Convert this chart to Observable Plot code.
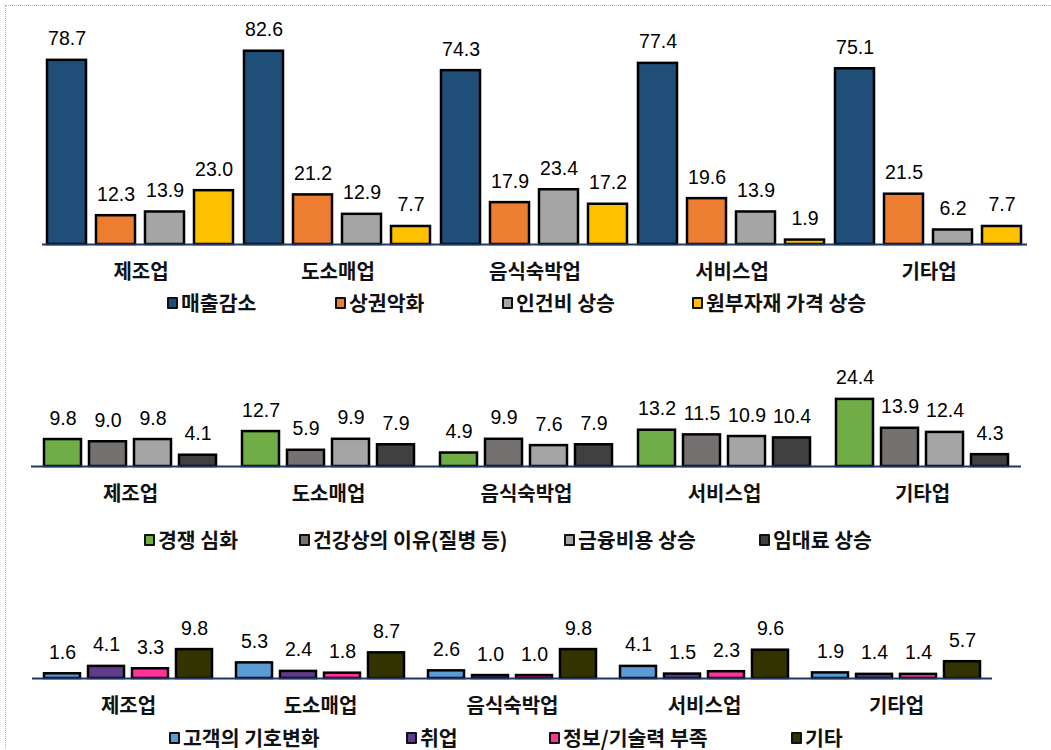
<!DOCTYPE html>
<html>
<head>
<meta charset="utf-8">
<script src="https://cdn.jsdelivr.net/npm/d3@7"></script>
<script src="https://cdn.jsdelivr.net/npm/@observablehq/plot@0.6"></script>
<style>
  html, body { margin:0; padding:0; background:#fff; width:1051px; height:750px; overflow:hidden; }
  #frame { position:absolute; left:5px; top:5px; width:1200px; height:900px; border:1px dotted #b0b0b0; }
  .panel { position:absolute; left:0; width:1051px; }
  .panel svg { overflow:visible; }
  .legend { position:absolute; height:24px; line-height:24px; white-space:nowrap;
            font-family:"Noto Sans CJK KR", sans-serif; font-size:20.5px; font-weight:bold; color:#111; }
  .item { position:absolute; top:0; }
  .sw { display:inline-block; width:7px; height:8px; border:2px solid #111; border-radius:1px; margin-right:3px; vertical-align:2px; }
</style>
</head>
<body>
<div id="frame"></div>
<div id="root"></div>
<script>
// ---- data ----
const categories = ["제조업", "도소매업", "음식숙박업", "서비스업", "기타업"];

const series1 = ["매출감소", "상권악화", "인건비 상승", "원부자재 가격 상승"];
const sales = [78.7, 82.6, 74.3, 77.4, 75.1];
const commercial = [12.3, 21.2, 17.9, 19.6, 21.5];
const labor = [13.9, 12.9, 23.4, 13.9, 6.2];
const materials = [23.0, 7.7, 17.2, 1.9, 7.7];
const colors1 = ["#1f4e79", "#ed7d31", "#a5a5a5", "#ffc000"];

const series2 = ["경쟁 심화", "건강상의 이유(질병 등)", "금융비용 상승", "임대료 상승"];
const competition = [9.8, 12.7, 4.9, 13.2, 24.4];
const health = [9.0, 5.9, 9.9, 11.5, 13.9];
const finance = [9.8, 9.9, 7.6, 10.9, 12.4];
const rent = [4.1, 7.9, 7.9, 10.4, 4.3];
const colors2 = ["#70ad47", "#767171", "#a5a5a5", "#404040"];

const series3 = ["고객의 기호변화", "취업", "정보/기술력 부족", "기타"];
const taste = [1.6, 5.3, 2.6, 4.1, 1.9];
const employment = [4.1, 2.4, 1.0, 1.5, 1.4];
const techLack = [3.3, 1.8, 1.0, 2.3, 1.4];
const other = [9.8, 8.7, 9.8, 9.6, 5.7];
const colors3 = ["#5b9bd5", "#5e3c8a", "#ff3399", "#333300"];

function toRows(series, arrays) {
  const rows = [];
  categories.forEach((c, i) => series.forEach((s, j) => rows.push({cat: c, series: s, value: arrays[j][i]})));
  return rows;
}

const panels = [
  {series: series1, arrays: [sales, commercial, labor, materials], colors: colors1,
   top: 0, height: 290, baseline: 244, yMax: 100, marginTop: 10, ml: 40, mr: 23, pi: 0.2, po: 0.09,
   legendTop: 290, legendX: [167, 335, 502, 692]},
  {series: series2, arrays: [competition, health, finance, rent], colors: colors2,
   top: 360, height: 146, baseline: 106, yMax: 30, marginTop: 23.5, ml: 31, mr: 30, pi: 0.18, po: 0.29,
   legendTop: 527, legendX: [144, 299, 564, 759]},
  {series: series3, arrays: [taste, employment, techLack, other], colors: colors3,
   top: 600, height: 118, baseline: 78, yMax: 20, marginTop: 19, ml: 30, mr: 58, pi: 0.18, po: 0.234,
   legendTop: 725, legendX: [169, 406, 549, 791]}
];

const root = document.getElementById("root");
panels.forEach(p => {
  const data = toRows(p.series, p.arrays);
  const chart = Plot.plot({
    width: 1051,
    height: p.height,
    marginTop: p.marginTop,
    marginBottom: p.height - p.baseline,
    marginLeft: p.ml,
    marginRight: p.mr,
    fx: {domain: categories, padding: 0, axis: null, label: null},
    x: {domain: p.series, paddingInner: p.pi, paddingOuter: p.po, axis: null},
    y: {domain: [0, p.yMax], axis: null},
    color: {domain: p.series, range: p.colors},
    marks: [
      Plot.barY(data, {fx: "cat", x: "series", y: "value", fill: "series", stroke: "#000", strokeWidth: 2.5}),
      Plot.ruleY([0], {stroke: "#203864", strokeWidth: 2}),
      Plot.text(data, {fx: "cat", x: "series", y: "value", text: d => d.value.toFixed(1),
        dy: -15, lineAnchor: "bottom", fontSize: 19.5, fontFamily: "Liberation Sans, Arial, sans-serif", fill: "#000"}),
      Plot.text(categories, {fx: d => d, text: d => d, frameAnchor: "bottom", dy: 28, lineAnchor: "middle",
        fontSize: 20, fontWeight: "bold", fontFamily: "Noto Sans CJK KR, sans-serif", fill: "#111"})
    ]
  });
  const wrap = document.createElement("div");
  wrap.className = "panel";
  wrap.style.top = p.top + "px";
  wrap.appendChild(chart);
  root.appendChild(wrap);

  const leg = document.createElement("div");
  leg.className = "legend";
  leg.style.top = p.legendTop + "px";
  leg.style.left = "0px";
  p.series.forEach((s, i) => {
    const it = document.createElement("span");
    it.className = "item";
    it.style.left = p.legendX[i] + "px";
    const sw = document.createElement("span");
    sw.className = "sw";
    sw.style.background = p.colors[i];
    it.appendChild(sw);
    it.appendChild(document.createTextNode(s));
    leg.appendChild(it);
  });
  root.appendChild(leg);
});
</script>
</body>
</html>
